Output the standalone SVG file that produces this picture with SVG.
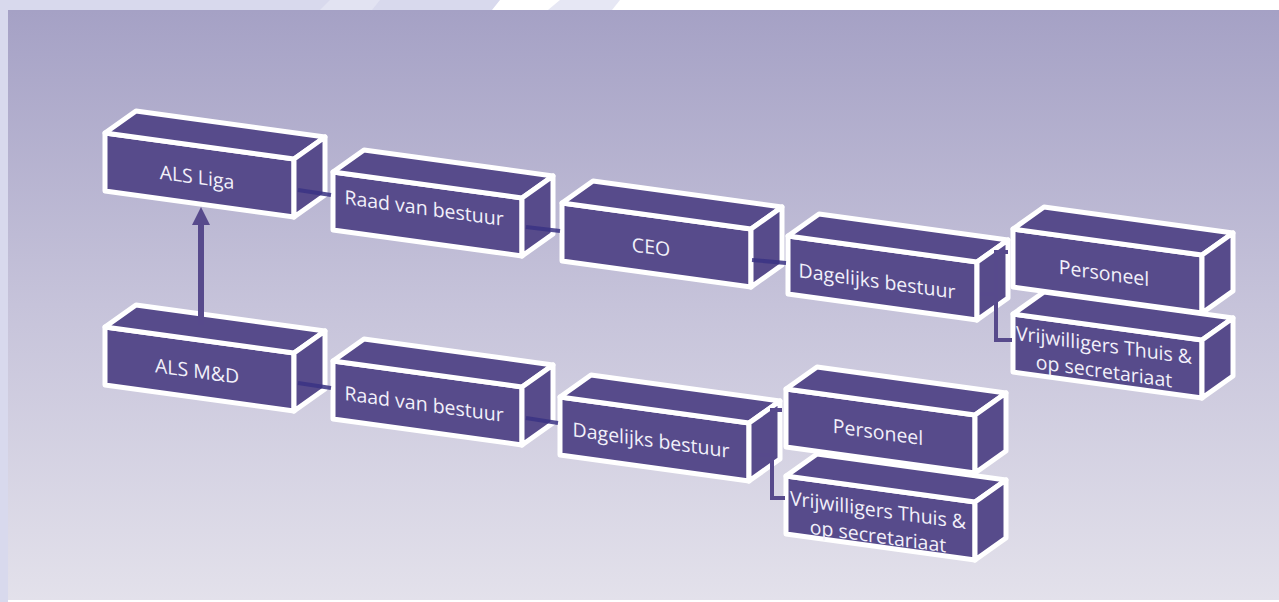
<svg xmlns="http://www.w3.org/2000/svg" xmlns:xlink="http://www.w3.org/1999/xlink" width="1279" height="602" viewBox="0 0 1279 602">
<style>
.face{fill:#574b8b;stroke:#ffffff;stroke-width:5;stroke-linejoin:round}
.lbl{font-family:"Open Sans","Liberation Sans",sans-serif;font-size:19.5px;fill:#f2f0fa;text-anchor:middle}
.dark{stroke:#3a3284;stroke-width:4;fill:none;opacity:0.85}
.elb{stroke:#574a8c;stroke-width:4;fill:none}
</style>
<defs>
<linearGradient id="bg" x1="0" y1="0" x2="0" y2="1">
<stop offset="0" stop-color="#a5a1c5"/>
<stop offset="0.5" stop-color="#c6c3da"/>
<stop offset="1" stop-color="#e3e1eb"/>
</linearGradient>
<g id="box">
<path class="face" d="M0,0 L189,26 L189,84 L0,58 Z"/>
<path class="face" d="M0,0 L31,-22 L220,4 L189,26 Z"/>
<path class="face" d="M189,26 L220,4 L220,62 L189,84 Z"/>
</g>
</defs>
<rect x="0" y="0" width="1279" height="602" fill="#ffffff"/>
<path d="M0,0 H500 L492,10 H8 V602 H0 Z" fill="#d8d9ed"/>
<path d="M330,0 H380 L372,10 H320 Z" fill="#e2e3f2"/>
<path d="M560,0 H620 L612,10 H548 Z" fill="#e6e7f4"/>
<rect x="8" y="10" width="1271" height="590" fill="url(#bg)"/>

<g id="node-vrijwilligers-1">
<use xlink:href="#box" x="1013" y="314"/>
<text class="lbl" transform="translate(1104,352) skewY(7.8)"><tspan x="0" y="0">Vrijwilligers Thuis &amp;</tspan><tspan x="0" y="26">op secretariaat</tspan></text>
</g>
<g id="node-personeel-1">
<use xlink:href="#box" x="1013" y="229"/>
<text class="lbl" transform="translate(1104,280) skewY(7.8)">Personeel</text>
</g>
<g id="node-als-liga">
<use xlink:href="#box" x="105" y="133"/>
<text class="lbl" transform="translate(197,184) skewY(7.8)">ALS Liga</text>
</g>
<g id="node-raad-1">
<use xlink:href="#box" x="333" y="172"/>
<text class="lbl" transform="translate(424,215) skewY(7.8)">Raad van bestuur</text>
</g>
<g id="node-ceo">
<use xlink:href="#box" x="562" y="203"/>
<text class="lbl" transform="translate(651,254) skewY(7.8)">CEO</text>
</g>
<g id="node-dagelijks-1">
<use xlink:href="#box" x="788" y="236"/>
<text class="lbl" transform="translate(877,288) skewY(7.8)">Dagelijks bestuur</text>
</g>

<g id="node-vrijwilligers-2">
<use xlink:href="#box" x="786" y="476"/>
<text class="lbl" transform="translate(878,517) skewY(7.8)"><tspan x="0" y="0">Vrijwilligers Thuis &amp;</tspan><tspan x="0" y="26">op secretariaat</tspan></text>
</g>
<g id="node-personeel-2">
<use xlink:href="#box" x="786" y="389"/>
<text class="lbl" transform="translate(878,439) skewY(7.8)">Personeel</text>
</g>
<g id="node-als-md">
<use xlink:href="#box" x="105" y="327"/>
<text class="lbl" transform="translate(197,378) skewY(7.8)">ALS M&amp;D</text>
</g>
<g id="node-raad-2">
<use xlink:href="#box" x="333" y="361"/>
<text class="lbl" transform="translate(424,411) skewY(7.8)">Raad van bestuur</text>
</g>
<g id="node-dagelijks-2">
<use xlink:href="#box" x="560" y="397"/>
<text class="lbl" transform="translate(651,447) skewY(7.8)">Dagelijks bestuur</text>
</g>

<g id="connectors">
<path class="dark" d="M298,190 L331,195"/>
<path class="dark" d="M526,227 L560,231"/>
<path class="dark" d="M752,260 L786,263"/>
<path class="dark" d="M298,383 L331,388"/>
<path class="dark" d="M526,418 L558,423"/>
<path class="elb" d="M980,294 H996 M1008,252 H996 V340 H1012"/>
<path class="elb" d="M753,455 H772 M782,410 H772 V498 H785"/>
<line x1="201" y1="325" x2="201" y2="222" stroke="#574a8c" stroke-width="6"/>
<polygon points="201,207 192,225 210,225" fill="#574a8c"/>
</g>
</svg>
